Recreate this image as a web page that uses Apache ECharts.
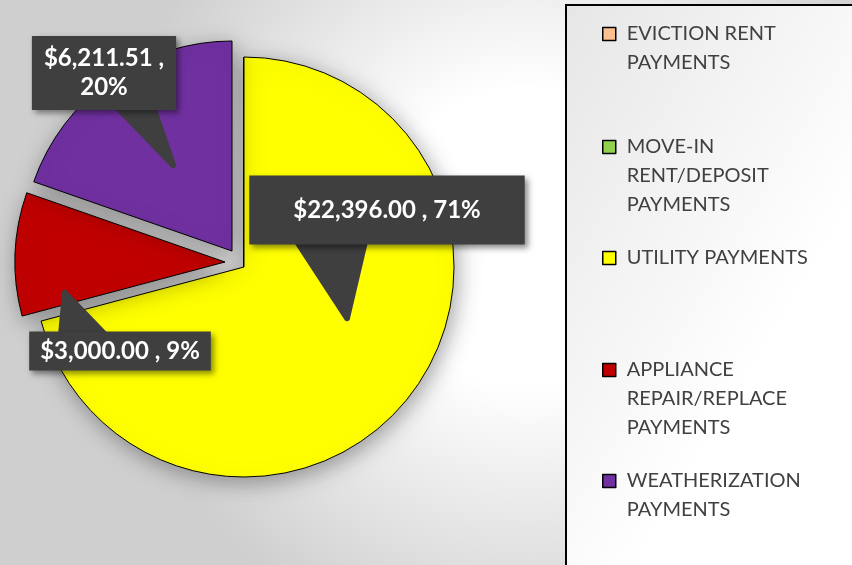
<!DOCTYPE html>
<html>
<head>
<meta charset="utf-8">
<script src="https://cdn.jsdelivr.net/npm/echarts@6/dist/echarts.min.js"></script>
<style>
  html, body { margin: 0; padding: 0; }
  #chart { width: 852px; height: 565px; }
</style>
</head>
<body>
<div id="chart"></div>
<script>
// data
const categories = [
  'EVICTION RENT PAYMENTS',
  'MOVE-IN RENT/DEPOSIT PAYMENTS',
  'UTILITY PAYMENTS',
  'APPLIANCE REPAIR/REPLACE PAYMENTS',
  'WEATHERIZATION PAYMENTS'
];
const values = [0, 0, 22396.0, 3000.0, 6211.51];
const legendLines = [
  ['EVICTION RENT', 'PAYMENTS'],
  ['MOVE-IN', 'RENT/DEPOSIT', 'PAYMENTS'],
  ['UTILITY PAYMENTS'],
  ['APPLIANCE', 'REPAIR/REPLACE', 'PAYMENTS'],
  ['WEATHERIZATION', 'PAYMENTS']
];

// styles / layout
const sliceColors = ['#fac090', '#92d050', '#ffff00', '#c00000', '#7030a0'];
// which slices each pie layer draws, and how far that layer is pulled out;
// the last layer only carries the callout labels, on top of everything
const layers = [
  { show: [0, 1, 2], center: [244, 267] },
  { show: [3], center: [225, 262] },
  { show: [4], center: [232, 251] },
  { show: [], center: [244, 267], labels: true }
];
const legendIconY = [34, 147, 258, 370, 481];
// callout box centre; tail base span (x, relative to centre) and tail tip
const labelPos = [null, null, [387, 210], [120, 351], [104, 73]];
const tailBase = [null, null, [-90, -22], [-59, -15], [13, 49]];
const tailTip = [null, null, [-40, 108], [-55, -58], [69, 92]];
const labelPad = [null, null, [20, 44], [5, 11], [8, 12]];
const LINE_H = 29;
const FONT = 'Lato, "Open Sans", sans-serif';

const money = v =>
  '$' + v.toLocaleString('en-US', { minimumFractionDigits: 2, maximumFractionDigits: 2 });

const chart = echarts.init(document.getElementById('chart'));

const legends = categories.map((name, i) => {
  const n = legendLines[i].length;
  return {
    data: [{ name, itemStyle: { color: sliceColors[i] } }],
    orient: 'vertical',
    left: 602,
    top: legendIconY[i] - (2 * n - 1) * LINE_H / 2,
    padding: 0,
    icon: 'rect',
    itemWidth: 13,
    itemHeight: 13,
    itemStyle: { borderColor: '#000', borderWidth: 1.5 },
    selectedMode: false,
    // blank lines on top keep the icon level with the first text line
    formatter: () => '\n'.repeat(n - 1) + legendLines[i].join('\n'),
    textStyle: {
      fontFamily: FONT,
      fontSize: 20,
      lineHeight: LINE_H,
      color: '#404040',
      padding: [0, 0, 0, 6]
    }
  };
});

// fan of strokes from the box edge to the tip, so the tail reads as a wedge
const tailPoints = (i, rect) => {
  const p = labelPos[i];
  const t = tailTip[i];
  const b = tailBase[i];
  const by = p[1] + Math.sign(t[1]) * (rect.height / 2 - 3);
  const tip = [p[0] + t[0], p[1] + t[1]];
  const k = Math.ceil((b[1] - b[0]) / 5);
  const pts = [];
  for (let j = 0; j <= k; j++) {
    pts.push([p[0] + b[0] + (b[1] - b[0]) * j / k, by]);
    pts.push(tip);
  }
  return pts;
};

const makeLayer = (layer, li) => ({
  type: 'pie',
  center: layer.center,
  radius: 210,
  startAngle: 90,
  clockwise: true,
  avoidLabelOverlap: false,
  animation: false,
  silent: true,
  z: 2 + li,
  label: {
    position: 'outside',
    formatter: p => {
      const pct = Math.round(p.percent) + '%';
      return money(p.value) + (p.dataIndex === 4 ? ' ,\n' : ' , ') + pct;
    },
    color: '#ffffff',
    fontFamily: FONT,
    fontWeight: 'bold',
    fontSize: 24,
    lineHeight: 29,
    align: 'center',
    backgroundColor: '#3f3f3f',
    shadowBlur: 6,
    shadowColor: 'rgba(0,0,0,0.45)',
    shadowOffsetX: 3,
    shadowOffsetY: 3
  },
  labelLine: {
    lineStyle: { color: '#3f3f3f', width: 6, cap: 'round', join: 'round' }
  },
  labelLayout: params => {
    const i = params.dataIndex;
    const p = labelPos[i];
    if (!p || !layer.labels) return {};
    return {
      x: p[0],
      y: p[1],
      align: 'center',
      verticalAlign: 'middle',
      labelLinePoints: tailPoints(i, params.labelRect)
    };
  },
  data: categories.map((name, i) => {
    const visible = layer.show.indexOf(i) >= 0;
    const hasLabel = !!layer.labels && !!labelPos[i];
    return {
      name,
      value: values[i],
      itemStyle: visible
        ? {
            color: sliceColors[i],
            borderColor: '#000',
            borderWidth: 1,
            shadowBlur: 22,
            shadowColor: 'rgba(0,0,0,0.35)',
            shadowOffsetX: 3,
            shadowOffsetY: 5
          }
        : { color: 'rgba(0,0,0,0)', borderWidth: 0 },
      label: hasLabel ? { show: true, padding: labelPad[i] } : { show: false },
      labelLine: { show: hasLabel }
    };
  })
});

chart.setOption({
  backgroundColor: {
    type: 'radial',
    x: 0.62,
    y: 0.42,
    r: 0.75,
    colorStops: [
      { offset: 0, color: '#ffffff' },
      { offset: 0.35, color: '#ffffff' },
      { offset: 1, color: '#cfcfcf' }
    ]
  },
  graphic: [
    {
      type: 'rect',
      z: -1,
      shape: { x: 566, y: 5, width: 300, height: 600 },
      style: {
        stroke: '#000',
        lineWidth: 2,
        fill: {
          type: 'linear', x: 0, y: 0, x2: 1, y2: 0.3,
          colorStops: [
            { offset: 0, color: '#e6e6e6' },
            { offset: 1, color: '#ffffff' }
          ]
        }
      }
    }
  ],
  legend: legends,
  series: layers.map(makeLayer)
});
</script>
</body>
</html>
